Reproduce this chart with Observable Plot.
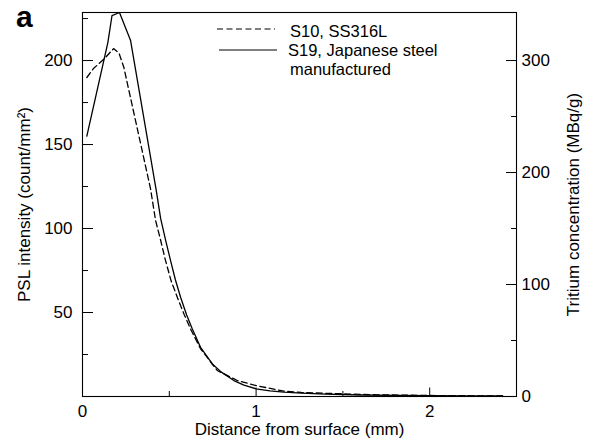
<!DOCTYPE html>
<html><head><meta charset="utf-8">
<script src="https://cdn.jsdelivr.net/npm/d3@7"></script>
<script src="https://cdn.jsdelivr.net/npm/@observablehq/plot@0.6"></script>
<style>
body{margin:0;background:#fff;}
#wrap{position:relative;width:589px;height:438px;font-family:"Liberation Sans",Arial,sans-serif;color:#000;}
#title{position:absolute;left:16px;top:-3px;font-size:30px;font-weight:bold;line-height:40px;}
#legend{position:absolute;left:0;top:0;pointer-events:none;}
</style></head><body>
<div id="wrap"><div id="chart"></div><div id="title">a</div><svg id="legend" width="589" height="438"></svg></div>
<script>
// ---- data ----
const seriesNames = ["S10, SS316L", "S19, Japanese steel", "manufactured"];
const s10Distance = [0.025, 0.063, 0.127, 0.179, 0.21, 0.238, 0.392, 0.421, 0.45, 0.478, 0.51, 0.546, 0.585, 0.622, 0.68, 0.776, 0.892, 1.0, 1.16, 1.26, 1.4, 1.5, 1.7, 2.0, 2.2, 2.42];
const s10PSL      = [189.9, 195.2, 201.2, 207.1, 204.5, 196, 123.6, 104.8, 93, 81, 69, 59.1, 49, 40.3, 28.4, 15.5, 9.5, 6.5, 3.2, 2.4, 1.9, 1.6, 1.0, 0.6, 0.45, 0.3];
const s19Distance = [0.025, 0.146, 0.17, 0.213, 0.277, 0.425, 0.45, 0.48, 0.507, 0.535, 0.565, 0.6, 0.632, 0.68, 0.748, 0.8, 0.872, 0.93, 1.0, 1.08, 1.16, 1.26, 1.4, 1.6, 1.8, 2.0, 2.2, 2.42];
const s19PSL      = [155, 210.7, 226.8, 228.6, 211.9, 122.6, 106, 92.5, 81, 69.5, 59.1, 48.5, 40.3, 29.3, 19.4, 14.5, 9.5, 6.8, 4.6, 3.4, 2.6, 2.0, 1.4, 0.9, 0.7, 0.5, 0.4, 0.3];
const leftMajorTicks  = [50, 100, 150, 200];
const leftMinorTicks  = [25, 75, 125, 175, 225];
const rightMajorTicks = [0, 100, 200, 300];   // MBq/g
const rightMinorTicks = [50, 150, 250];
const xMajorTicks = [0, 1, 2];
const xMinorTicks = [0.5, 1.5];
const tritiumPerPSL = 1.5; // 300 MBq/g sits at 200 count/mm²

const s10 = s10Distance.map((d, i) => ({x: d, y: s10PSL[i]}));
const s19 = s19Distance.map((d, i) => ({x: d, y: s19PSL[i]}));
const toLeft = t => t / tritiumPerPSL;

const font = '"Liberation Sans", Arial, sans-serif';
const plot = Plot.plot({
  width: 589, height: 438,
  marginLeft: 82, marginRight: 73, marginTop: 12, marginBottom: 42,
  style: {fontFamily: font, fontSize: "17px", color: "#000", background: "#fff"},
  x: {domain: [0, 2.5]},
  y: {domain: [0, 228.6]},
  marks: [
    Plot.frame({stroke: "#000", strokeWidth: 1.1}),
    // left axis
    Plot.axisY(leftMajorTicks, {anchor: "left", tickSize: -11, fill: "none", label: null}),
    Plot.axisY(leftMinorTicks, {anchor: "left", tickSize: -6, fill: "none", label: null}),
    Plot.axisY(leftMajorTicks, {anchor: "left", tickSize: 0, tickPadding: 10, label: "PSL intensity (count/mm²)", labelAnchor: "center", labelOffset: 65, labelArrow: "none", fontSize: 17}),
    // right axis
    Plot.axisY(rightMajorTicks.map(toLeft), {anchor: "right", tickSize: -11, fill: "none", label: null}),
    Plot.axisY(rightMinorTicks.map(toLeft), {anchor: "right", tickSize: -6, fill: "none", label: null}),
    Plot.axisY(rightMajorTicks.map(toLeft), {anchor: "right", tickSize: 0, tickPadding: 5, tickFormat: d => Math.round(d * tritiumPerPSL), label: "Tritium concentration (MBq/g)", labelAnchor: "center", labelOffset: 62, labelArrow: "none", fontSize: 17}),
    // x axis
    Plot.axisX(xMajorTicks, {anchor: "bottom", tickSize: -8.5, fill: "none", label: null}),
    Plot.axisX(xMinorTicks, {anchor: "bottom", tickSize: -5, fill: "none", label: null}),
    Plot.axisX(xMajorTicks, {anchor: "bottom", tickSize: 0, tickPadding: 8, tickFormat: d => String(d), label: "Distance from surface (mm)", labelAnchor: "center", labelOffset: 38, labelArrow: "none", fontSize: 17}),
    // curves
    Plot.line(s10, {x: "x", y: "y", stroke: "#000", strokeWidth: 1.3, strokeDasharray: "6,3.5"}),
    Plot.line(s19, {x: "x", y: "y", stroke: "#000", strokeWidth: 1.3})
  ]
});
document.getElementById("chart").appendChild(plot);

// legend
const lg = d3.select("#legend");
lg.append("line").attr("x1", 217).attr("x2", 275).attr("y1", 29).attr("y2", 29)
  .attr("stroke", "#000").attr("stroke-width", 1.2).attr("stroke-dasharray", "6,3.5");
lg.append("line").attr("x1", 219).attr("x2", 277).attr("y1", 50).attr("y2", 50)
  .attr("stroke", "#000").attr("stroke-width", 1.2);
const lt = [[290, 37, seriesNames[0]], [288, 56, seriesNames[1]], [290, 75, seriesNames[2]]];
lt.forEach(([x, y, t]) => lg.append("text").attr("x", x).attr("y", y).attr("font-family", font)
  .attr("font-size", 16.5).attr("fill", "#000").text(t));
</script>
</body></html>
